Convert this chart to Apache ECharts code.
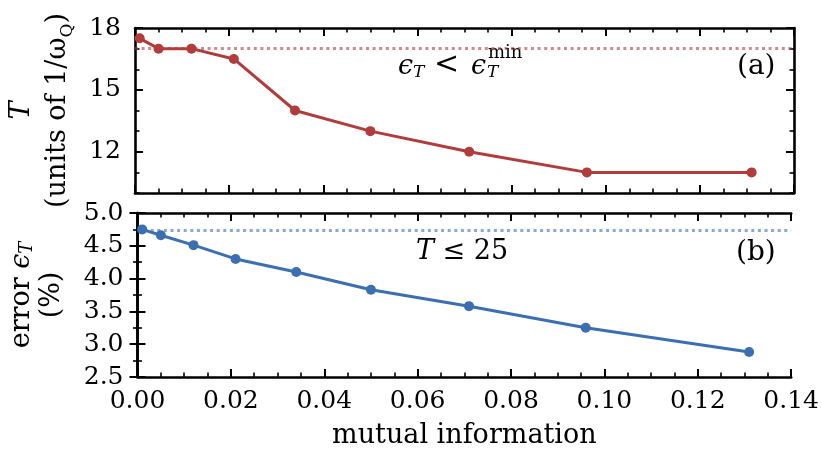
<!DOCTYPE html>
<html>
<head>
<meta charset="utf-8">
<script src="https://cdn.jsdelivr.net/npm/echarts@6/dist/echarts.min.js"></script>
<style>
html,body{margin:0;padding:0;background:#fff;}
#c{width:822px;height:455px;}
</style>
</head>
<body>
<div id="c"></div>
<script>
// ---- data ----
const mutualInfo = [0.001, 0.005, 0.012, 0.021, 0.034, 0.050, 0.071, 0.096, 0.131];
const durationT = [17.5, 17.0, 17.0, 16.5, 14.0, 13.0, 12.0, 11.0, 11.0];
const errorT = [4.75, 4.66, 4.51, 4.30, 4.10, 3.83, 3.58, 3.25, 2.88];
const thresholdT = 17.0;
const thresholdErr = 4.74;
const topMajorTicks = [12, 15, 18];

const FONT = "'DejaVu Serif', 'Liberation Serif', serif";
const RED = '#b23b3b';
const BLUE = '#3b6fb1';
const FS = 25;
const NFS = 27;

const frame = {show: true, lineStyle: {color: '#000', width: 2.6}};

function xAx(grid, pos, labels) {
  return {
    type: 'value', gridIndex: grid, position: pos, min: 0, max: 0.14, interval: 0.02,
    axisLine: frame,
    axisTick: {show: true, inside: true, length: 8, lineStyle: {color: '#000', width: 2}},
    minorTick: {show: true, splitNumber: 4, length: 4.5, lineStyle: {color: '#000', width: 1.6}},
    splitLine: {show: false},
    axisLabel: labels ? {show: true, margin: 12, fontFamily: FONT, fontSize: FS, color: '#000',
      formatter: v => v.toFixed(2)} : {show: false},
    name: labels ? 'mutual information' : '',
    nameLocation: 'middle', nameGap: 45,
    nameTextStyle: {fontFamily: FONT, fontSize: NFS, color: '#000'}
  };
}

function pair(x) { return mutualInfo.map((m, i) => [m, x[i]]); }

const option = {
  animation: false,
  backgroundColor: '#fff',
  grid: [
    {left: 135, top: 28, width: 659, height: 165},
    {left: 135, top: 213, width: 659, height: 164}
  ],
  xAxis: [xAx(0, 'bottom', false), xAx(0, 'top', false), xAx(1, 'bottom', true), xAx(1, 'top', false)],
  yAxis: [
    { // 0: top grid left, labels + short ticks
      type: 'value', gridIndex: 0, position: 'left', min: 10, max: 18, interval: 1,
      axisLine: frame,
      axisTick: {show: true, inside: true, length: 4.5, lineStyle: {color: '#000', width: 1.6}},
      splitLine: {show: false},
      axisLabel: {show: true, margin: 14, fontFamily: FONT, fontSize: FS, color: '#000',
        formatter: v => (topMajorTicks.indexOf(v) >= 0 ? String(v) : '')},
      name: '{it|T}\n{n|(units of 1/ω}{sub|Q}{n|)}',
      nameLocation: 'middle', nameRotate: 90, nameGap: 59,
      nameTextStyle: {fontFamily: FONT, color: '#000',
        rich: {
          it: {fontFamily: FONT, fontStyle: 'italic', fontSize: NFS, lineHeight: 36, color: '#000'},
          n: {fontFamily: FONT, fontSize: NFS, lineHeight: 36, color: '#000'},
          sub: {fontFamily: FONT, fontSize: 17, lineHeight: 36, verticalAlign: 'bottom', color: '#000'}
        }}
    },
    { // 1: top grid left, long ticks
      type: 'value', gridIndex: 0, position: 'left', min: 10, max: 18,
      axisLine: {show: false},
      axisTick: {show: true, inside: true, length: 8, customValues: topMajorTicks, lineStyle: {color: '#000', width: 2}},
      axisLabel: {show: false}, splitLine: {show: false}
    },
    { // 2: top grid right, short ticks
      type: 'value', gridIndex: 0, position: 'right', min: 10, max: 18, interval: 1,
      axisLine: frame,
      axisTick: {show: true, inside: true, length: 4.5, lineStyle: {color: '#000', width: 1.6}},
      axisLabel: {show: false}, splitLine: {show: false}
    },
    { // 3: top grid right, long ticks
      type: 'value', gridIndex: 0, position: 'right', min: 10, max: 18,
      axisLine: {show: false},
      axisTick: {show: true, inside: true, length: 8, customValues: topMajorTicks, lineStyle: {color: '#000', width: 2}},
      axisLabel: {show: false}, splitLine: {show: false}
    },
    { // 4: bottom grid left
      type: 'value', gridIndex: 1, position: 'left', min: 2.5, max: 5.0, interval: 0.5,
      axisLine: frame,
      axisTick: {show: true, inside: true, length: 8, lineStyle: {color: '#000', width: 2}},
      minorTick: {show: true, splitNumber: 2, length: 4.5, lineStyle: {color: '#000', width: 1.6}},
      splitLine: {show: false},
      axisLabel: {show: true, margin: 14, fontFamily: FONT, fontSize: FS, color: '#000',
        formatter: v => v.toFixed(1)},
      name: '{n|error }{e|ϵ}{sub|T}\n{n|(%)}',
      nameLocation: 'middle', nameRotate: 90, nameGap: 71,
      nameTextStyle: {fontFamily: FONT, color: '#000',
        rich: {
          n: {fontFamily: FONT, fontSize: NFS, lineHeight: 30, color: '#000'},
          e: {fontFamily: FONT, fontStyle: 'italic', fontSize: NFS, lineHeight: 30, color: '#000'},
          sub: {fontFamily: FONT, fontStyle: 'italic', fontSize: 18, lineHeight: 30, verticalAlign: 'bottom', color: '#000'}
        }}
    },
    { // 5: bottom grid right
      type: 'value', gridIndex: 1, position: 'right', min: 2.5, max: 5.0, interval: 0.5,
      axisLine: frame,
      axisTick: {show: true, inside: true, length: 8, lineStyle: {color: '#000', width: 2}},
      minorTick: {show: true, splitNumber: 2, length: 4.5, lineStyle: {color: '#000', width: 1.6}},
      axisLabel: {show: false}, splitLine: {show: false}
    }
  ],
  series: [
    {
      type: 'line', xAxisIndex: 0, yAxisIndex: 0, data: pair(durationT), z: 5,
      symbol: 'circle', symbolSize: 10, lineStyle: {color: RED, width: 3}, itemStyle: {color: RED},
      markLine: {silent: true, symbol: 'none', label: {show: false}, z: 2,
        lineStyle: {color: RED, opacity: 0.6, type: [3, 3.6], width: 3},
        data: [{yAxis: thresholdT}]}
    },
    {
      type: 'line', xAxisIndex: 2, yAxisIndex: 4, data: pair(errorT), z: 5,
      symbol: 'circle', symbolSize: 10, lineStyle: {color: BLUE, width: 3}, itemStyle: {color: BLUE},
      markLine: {silent: true, symbol: 'none', label: {show: false}, z: 2,
        lineStyle: {color: BLUE, opacity: 0.6, type: [3, 3.6], width: 3},
        data: [{yAxis: thresholdErr}]}
    }
  ],
  graphic: [
    // (a) annotation: eps_T < eps_T^min
    {type: 'text', left: 398, top: 53, style: {text: 'ϵ', fontFamily: FONT, fontStyle: 'italic', fontSize: 27, fill: '#000'}},
    {type: 'text', left: 413, top: 64, style: {text: 'T', fontFamily: FONT, fontStyle: 'italic', fontSize: 17, fill: '#000'}},
    {type: 'text', left: 434, top: 50, style: {text: '<', fontFamily: FONT, fontSize: 30, fill: '#000'}},
    {type: 'text', left: 471, top: 53, style: {text: 'ϵ', fontFamily: FONT, fontStyle: 'italic', fontSize: 27, fill: '#000'}},
    {type: 'text', left: 487, top: 64, style: {text: 'T', fontFamily: FONT, fontStyle: 'italic', fontSize: 17, fill: '#000'}},
    {type: 'text', left: 488, top: 44, style: {text: 'min', fontFamily: FONT, fontSize: 18, fill: '#000'}},
    {type: 'text', left: 737, top: 53, style: {text: '(a)', fontFamily: FONT, fontSize: 28, fill: '#000'}},
    // (b) annotation: T <= 25
    {type: 'text', left: 416, top: 238, style: {text: '{i|T} ≤ 25', fontFamily: FONT, fontSize: 27, fill: '#000',
      rich: {i: {fontFamily: FONT, fontStyle: 'italic', fontSize: 27}}}},
    {type: 'text', left: 736, top: 239, style: {text: '(b)', fontFamily: FONT, fontSize: 28, fill: '#000'}}
  ]
};

const chart = echarts.init(document.getElementById('c'), null, {renderer: 'canvas'});
chart.setOption(option);
</script>
</body>
</html>
